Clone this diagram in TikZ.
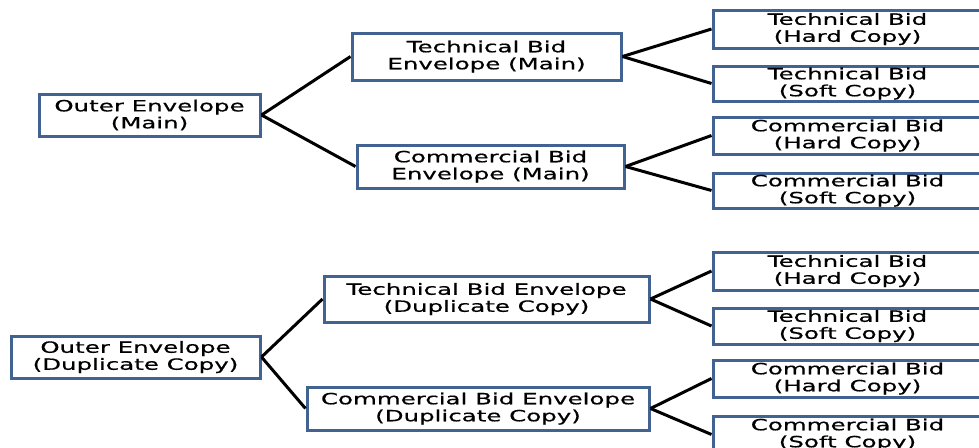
\documentclass[tikz,border=0pt]{standalone}
\usepackage{fontspec}
\setmainfont{DejaVu Sans}[FakeStretch=1.58,FakeBold=0.6]
\definecolor{boxblue}{RGB}{66,98,146}
\tikzset{
  bx/.style={draw=boxblue, line width=3pt, fill=white, rectangle, inner sep=0pt,
    align=center, font=\fontsize{15.5}{17}\selectfont, text=black},
  link/.style={draw=black, line width=3pt}
}
\begin{document}
\begin{tikzpicture}[x=1pt,y=-1pt]
\useasboundingbox (0,0) rectangle (979,447);
\clip (0,0) rectangle (979,447);
\fill[white] (0,0) rectangle (979,447);
% top tree
\node[bx, minimum width=221pt, minimum height=42pt] (om) at (149.5,115) {Outer Envelope\\(Main)};
\node[bx, minimum width=269pt, minimum height=47pt] (tm) at (486.5,56.5) {Technical Bid\\Envelope (Main)};
\node[bx, minimum width=267pt, minimum height=43pt] (cm) at (490.5,166.5) {Commercial Bid\\Envelope (Main)};
\node[bx, minimum width=269pt, minimum height=38pt] (th1) at (847.5,29) {Technical Bid\\(Hard Copy)};
\node[bx, minimum width=269pt, minimum height=35pt] (ts1) at (847.5,83.5) {Technical Bid\\(Soft Copy)};
\node[bx, minimum width=269pt, minimum height=37pt] (ch1) at (847.5,135.5) {Commercial Bid\\(Hard Copy)};
\node[bx, minimum width=269pt, minimum height=35pt] (cs1) at (847.5,190.5) {Commercial Bid\\(Soft Copy)};
% bottom tree
\node[bx, minimum width=249pt, minimum height=42pt] (od) at (135.5,357) {Outer Envelope\\(Duplicate Copy)};
\node[bx, minimum width=325pt, minimum height=46pt] (td) at (486.5,299) {Technical Bid Envelope\\(Duplicate Copy)};
\node[bx, minimum width=342pt, minimum height=43pt] (cd) at (478,408.5) {Commercial Bid Envelope\\(Duplicate Copy)};
\node[bx, minimum width=269pt, minimum height=38pt] (th2) at (847.5,271) {Technical Bid\\(Hard Copy)};
\node[bx, minimum width=269pt, minimum height=36pt] (ts2) at (847.5,326) {Technical Bid\\(Soft Copy)};
\node[bx, minimum width=269pt, minimum height=37pt] (ch2) at (847.5,378.5) {Commercial Bid\\(Hard Copy)};
\node[bx, minimum width=269pt, minimum height=37pt] (cs2) at (847.5,434.5) {Commercial Bid\\(Soft Copy)};
% connectors
\draw[link] (om.east) -- (tm.west);
\draw[link] (om.east) -- (cm.west);
\draw[link] (tm.east) -- (th1.west);
\draw[link] (tm.east) -- (ts1.west);
\draw[link] (cm.east) -- (ch1.west);
\draw[link] (cm.east) -- (cs1.west);
\draw[link] (od.east) -- (td.west);
\draw[link] (od.east) -- (cd.west);
\draw[link] (td.east) -- (th2.west);
\draw[link] (td.east) -- (ts2.west);
\draw[link] (cd.east) -- (ch2.west);
\draw[link] (cd.east) -- (cs2.west);
\end{tikzpicture}
\end{document}
